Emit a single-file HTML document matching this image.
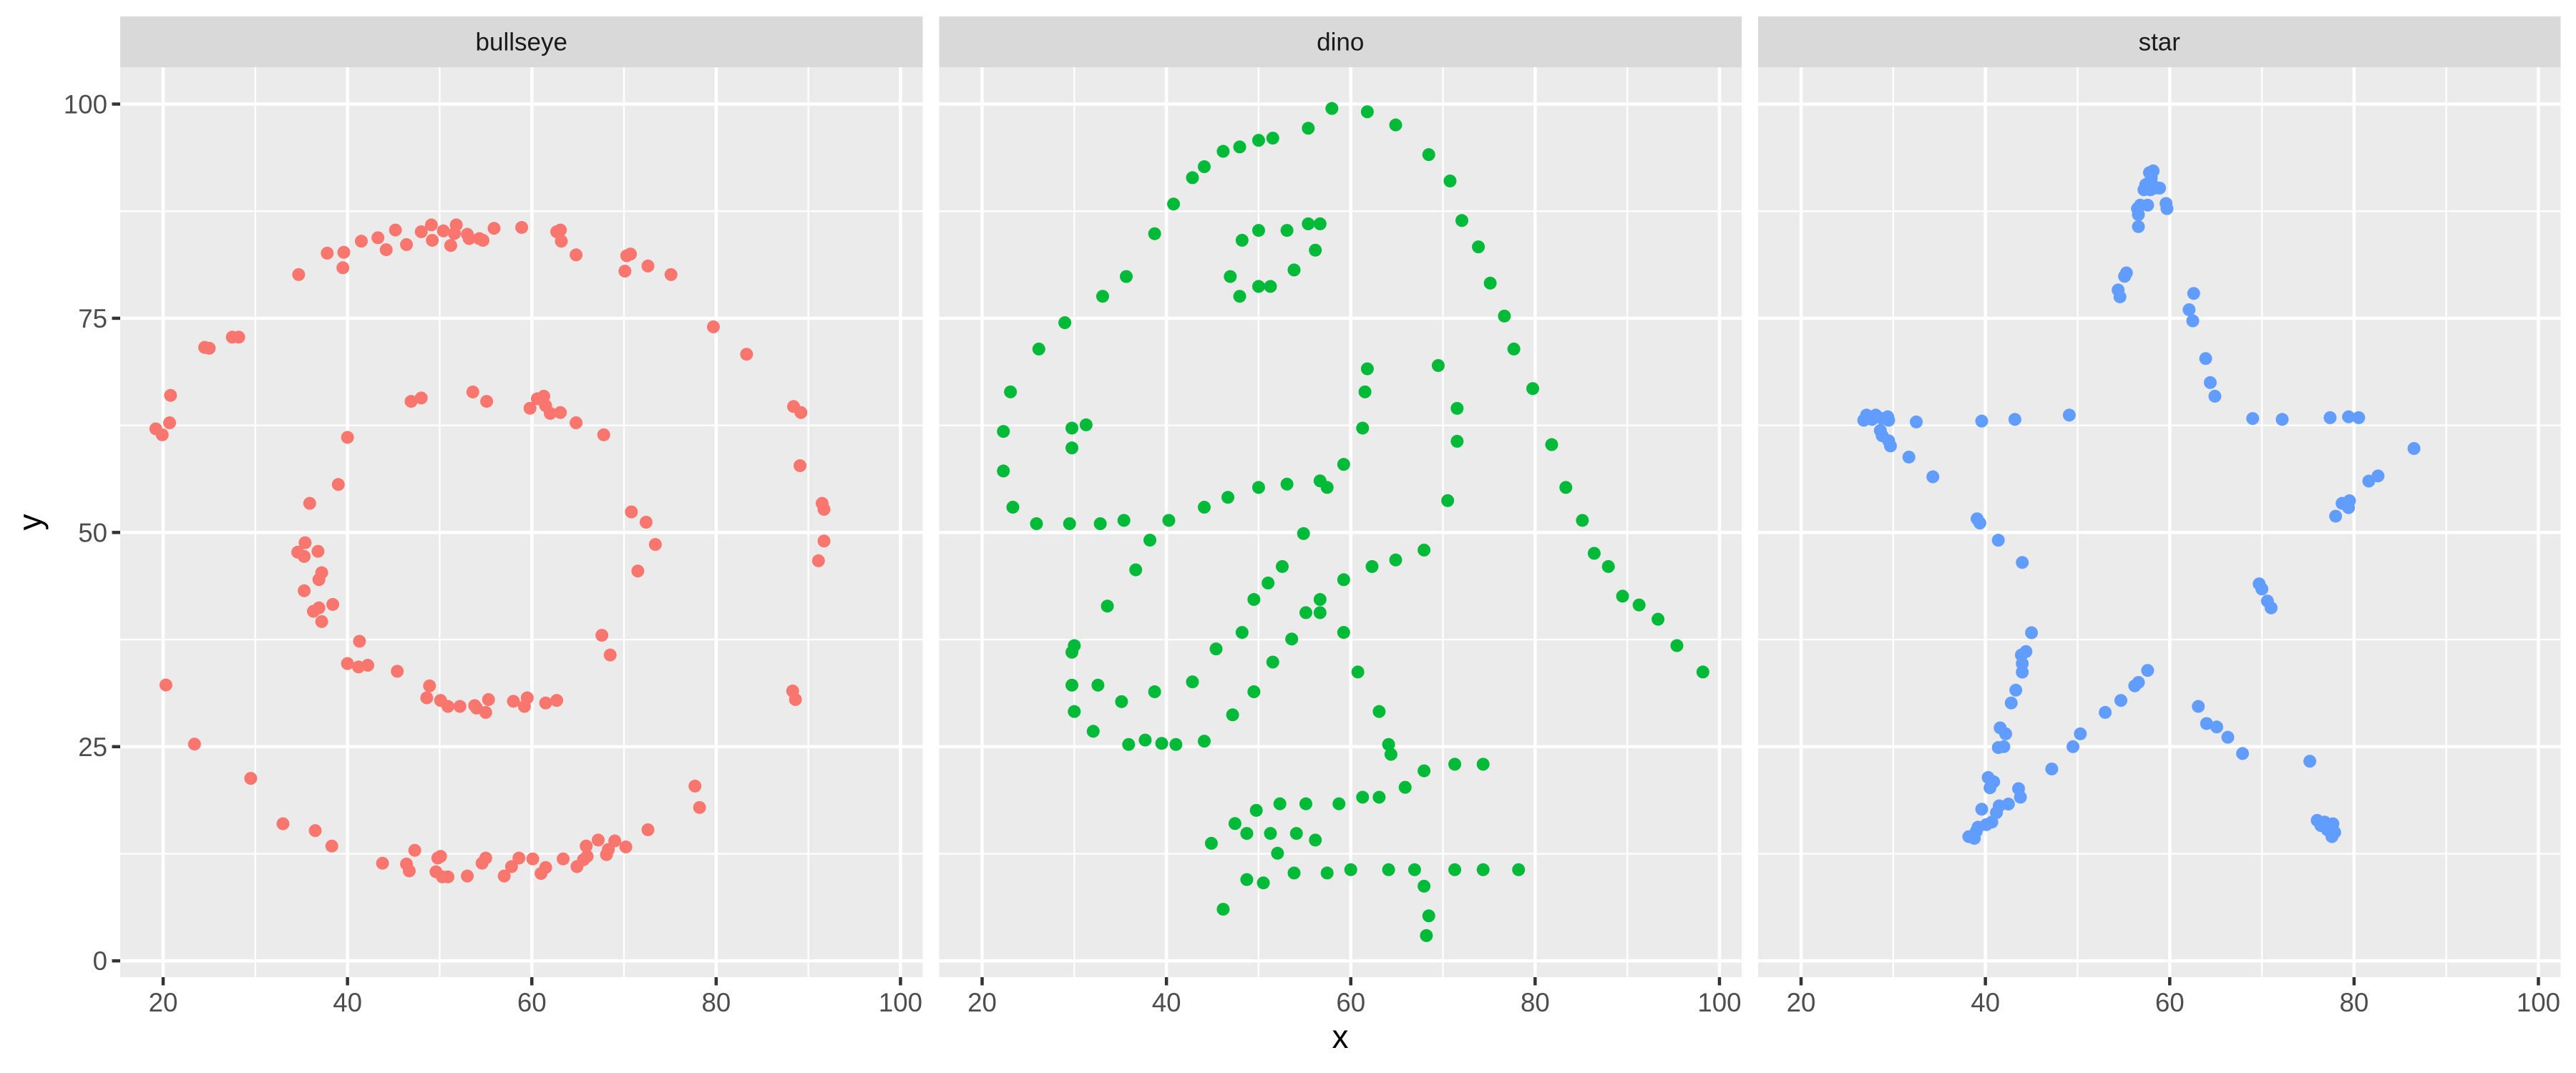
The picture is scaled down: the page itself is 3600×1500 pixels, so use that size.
<!DOCTYPE html>
<html><head><meta charset="utf-8">
<style>
html,body{margin:0;padding:0;background:#fff;}
svg{display:block;font-family:"Liberation Sans","DejaVu Sans",sans-serif;}
</style></head>
<body>
<svg id="chart" width="3600" height="1500" viewBox="0 0 3600 1500" xmlns="http://www.w3.org/2000/svg">
<rect width="3600" height="1500" fill="#ffffff"/>
<text x="42" y="730" font-size="46" fill="#000" text-anchor="middle" transform="rotate(-90 42 730)" dominant-baseline="central">y</text>
<text x="1873" y="1465" font-size="46" fill="#000" text-anchor="middle">x</text>
</svg>
<script>
const panelNames = ["bullseye","dino","star"];
const panelColors = ["#F8766D","#00BA38","#619CFF"];
const xTicks = [20,40,60,80,100];
const xMinor = [30,50,70,90];
const yTicks = [0,25,50,75,100];
const yMinor = [12.5,37.5,62.5,87.5];
const xTickLabels = ["20","40","60","80","100"];
const yTickLabels = ["0","25","50","75","100"];

const bullseyeX = [34.7,37.8,39.6,39.5,41.5,43.3,44.2,45.2,46.4,48.0,49.1,49.2,50.4,51.2,51.6,51.8,53.0,53.2,54.3,54.7,55.9,58.9,62.7,63.1,63.2,64.8,70.1,70.3,70.7,72.6,75.1,79.7,83.3,88.4,89.2,89.1,91.5,91.7,91.7,91.1,88.3,88.6,77.7,78.2,72.6,70.2,69.0,68.3,68.1,67.2,65.9,66.0,65.6,64.9,63.4,61.5,61.0,60.1,58.6,57.8,57.0,55.0,54.6,53.0,50.9,50.3,49.6,50.1,49.8,47.3,46.7,46.4,43.8,38.3,36.5,33.0,29.5,23.4,20.3,19.2,19.9,20.7,20.8,24.5,25.0,27.5,28.2,
46.9,48.0,53.6,55.1,59.8,60.6,61.3,61.5,62.0,63.1,64.8,67.8,40.0,39.0,35.9,35.4,34.6,35.3,36.8,37.2,36.9,35.3,36.3,36.9,37.2,38.4,41.3,40.0,41.2,42.2,45.4,48.9,48.6,50.1,50.9,52.2,53.8,54.0,55.0,55.3,58.0,59.2,59.5,61.5,62.7,67.6,68.5,70.8,72.4,73.4,71.5];
const bullseyeY = [80.1,82.6,82.7,80.9,84.0,84.4,83.0,85.3,83.6,85.1,85.9,84.1,85.2,83.5,84.9,85.9,84.8,84.3,84.3,84.1,85.5,85.6,85.1,85.3,84.0,82.4,80.5,82.3,82.5,81.1,80.1,74.0,70.8,64.7,64.0,57.8,53.4,52.7,49.0,46.7,31.5,30.5,20.4,17.9,15.3,13.3,14.0,13.0,12.4,14.1,13.4,12.2,11.8,11.0,11.9,10.9,10.2,11.9,12.0,11.0,9.9,12.0,11.4,9.9,9.8,9.8,10.4,12.2,12.0,12.9,10.5,11.3,11.4,13.4,15.2,16.0,21.3,25.3,32.2,62.1,61.4,62.8,66.0,71.6,71.5,72.8,72.8,
65.3,65.7,66.4,65.3,64.5,65.6,65.9,64.8,63.9,64.0,62.8,61.4,61.1,55.6,53.4,48.8,47.7,47.2,47.8,45.3,44.5,43.2,40.8,41.2,39.6,41.6,37.3,34.7,34.3,34.5,33.8,32.1,30.7,30.4,29.7,29.7,29.8,29.5,29.0,30.5,30.3,29.7,30.7,30.1,30.4,38.0,35.7,52.4,51.2,48.6,45.5];

const dinoX = [55.3846,51.5385,46.1538,42.8205,40.7692,38.7179,35.641,33.0769,28.9744,26.1538,23.0769,22.3077,22.3077,23.3333,25.8974,29.4872,32.8205,35.3846,40.2564,44.1026,46.6667,50,53.0769,56.6667,59.2308,61.2821,61.5385,61.7949,57.4359,54.8718,52.5641,48.2051,49.4872,51.0256,45.3846,42.8205,38.7179,35.1282,32.5641,30,33.5897,36.6667,38.2051,29.7436,29.7436,30,32.0513,35.8974,41.0256,44.1026,47.1795,49.4872,51.5385,53.5897,55.1282,56.6667,59.2308,62.3077,64.8718,67.9487,70.5128,71.5385,71.5385,69.4872,46.9231,48.2051,50,53.0769,55.3846,56.6667,56.1538,53.8462,51.2821,50,47.9487,29.7436,29.7436,31.2821,57.9487,61.7949,64.8718,68.4615,70.7692,72.0513,73.8462,75.1282,76.6667,77.6923,79.7436,81.7949,83.3333,85.1282,86.4103,87.9487,89.4872,93.3333,95.3846,98.2051,56.6667,59.2308,60.7692,63.0769,64.1026,64.359,74.359,71.2821,67.9487,65.8974,63.0769,61.2821,58.7179,55.1282,52.3077,49.7436,47.4359,44.8718,48.7179,51.2821,54.1026,56.1538,52.0513,48.7179,46.1538,50.5128,53.8462,57.4359,60,64.1026,66.9231,71.2821,74.359,78.2051,67.9487,68.4615,68.2051,37.6923,39.4872,91.2821,50,47.9487,44.1026];
const dinoY = [97.1795,96.0256,94.4872,91.4103,88.3333,84.8718,79.8718,77.5641,74.4872,71.4103,66.4103,61.7949,57.1795,52.9487,51.0256,51.0256,51.0256,51.4103,51.4103,52.9487,54.1026,55.2564,55.641,56.0256,57.9487,62.1795,66.4103,69.1026,55.2564,49.8718,46.0256,38.3333,42.1795,44.1026,36.4103,32.5641,31.4103,30.2564,32.1795,36.7949,41.4103,45.641,49.1026,36.0256,32.1795,29.1026,26.7949,25.2564,25.2564,25.641,28.718,31.4103,34.8718,37.5641,40.641,42.1795,44.4872,46.0256,46.7949,47.9487,53.718,60.641,64.4872,69.4872,79.8718,84.1026,85.2564,85.2564,86.0256,86.0256,82.9487,80.641,78.718,78.718,77.5641,59.8718,62.1795,62.5641,99.4872,99.1026,97.5641,94.1026,91.0256,86.4103,83.3333,79.1026,75.2564,71.4103,66.7949,60.2564,55.2564,51.4103,47.5641,46.0256,42.5641,39.8718,36.7949,33.718,40.641,38.3333,33.718,29.1026,25.2564,24.1026,22.9487,22.9487,22.1795,20.2564,19.1026,19.1026,18.3333,18.3333,18.3333,17.5641,16.0256,13.718,14.8718,14.8718,14.8718,14.1026,12.5641,9.4872,6.0256,9.1026,10.2564,10.2564,10.641,10.641,10.641,10.641,10.641,10.641,8.718,5.2564,2.9487,25.7692,25.3846,41.5385,95.7692,95,92.6923];

const starX = [26.8,27.1,27.7,28.1,28.8,29.4,29.5,28.6,28.8,29.5,29.7,32.5,31.7,34.3,39.6,43.2,49.1,69.0,72.2,77.4,79.4,80.5,86.5,82.6,81.6,79.5,78.7,79.4,78.0,39.1,39.4,41.4,44.0,45.0,44.4,43.9,44.0,44.0,43.3,42.8,41.6,42.2,41.4,42.0,40.3,40.9,40.5,43.6,43.8,42.5,41.5,41.2,39.6,40.7,40.1,39.2,39.0,38.2,38.8,47.2,49.5,50.3,53.0,54.7,56.2,56.6,57.6,63.1,64.0,65.1,66.3,67.9,75.2,76.0,76.4,76.8,77.4,77.7,77.9,77.6,77.1,69.7,70.0,70.6,71.0,62.6,62.1,62.5,63.9,64.4,64.9,54.4,54.6,55.1,55.3,56.6,56.6,56.5,56.8,57.6,57.2,57.4,58.0,58.2,57.8,58.1,58.4,58.9,59.6,59.7,57.9];
const starY = [63.1,63.7,63.2,63.7,63.3,63.5,63.1,61.9,61.3,60.7,60.1,62.9,58.8,56.5,63.0,63.2,63.7,63.3,63.2,63.4,63.5,63.4,59.8,56.6,56.0,53.7,53.4,52.9,51.9,51.6,51.1,49.1,46.5,38.3,36.1,35.7,34.7,33.7,31.6,30.1,27.2,26.5,24.9,25.0,21.4,20.9,20.2,20.1,19.1,18.3,18.1,17.3,17.7,16.2,15.9,15.6,15.1,14.5,14.3,22.4,25.0,26.5,29.0,30.4,32.1,32.5,33.9,29.7,27.7,27.3,26.1,24.2,23.3,16.4,15.8,16.2,15.7,16.0,15.0,14.5,15.3,44.0,43.4,42.0,41.2,77.9,76.0,74.7,70.3,67.5,65.9,78.3,77.5,79.9,80.3,85.7,87.1,87.8,88.2,88.2,90.0,90.6,91.4,92.2,92.0,90.6,90.2,90.2,88.4,87.8,90.0];

const seriesX = [bullseyeX, dinoX, starX];
const seriesY = [bullseyeY, dinoY, starY];

const NS = "http://www.w3.org/2000/svg";
const svg = document.getElementById("chart");
const panelW = 1121.5, gap = 23, left0 = 168, plotTop = 94, plotBottom = 1366, stripTop = 23;
const xMinV = 15.34, xMaxV = 102.41, yMinV = -1.9, yMaxV = 104.3;
function xScale(v, p) { const l = left0 + p*(panelW+gap); return l + (v - xMinV)/(xMaxV - xMinV)*panelW; }
function yScale(v) { return plotBottom - (v - yMinV)/(yMaxV - yMinV)*(plotBottom - plotTop); }
function mk(tag, attrs) { const e = document.createElementNS(NS, tag); for (const k in attrs) e.setAttribute(k, attrs[k]); svg.appendChild(e); return e; }

for (let p = 0; p < 3; p++) {
  const l = left0 + p*(panelW+gap);
  const bg = mk("rect", {x:l, y:plotTop, width:panelW, height:plotBottom-plotTop, fill:"#EBEBEB"});
  
  
  const st = mk("rect", {x:l, y:stripTop, width:panelW, height:plotTop-stripTop, fill:"#D9D9D9"});
  
  
  const stt = mk("text", {x:l+panelW/2, y:(stripTop+plotTop)/2+12, "font-size":"35", fill:"#1A1A1A", "text-anchor":"middle"});
  stt.textContent = panelNames[p];
  
  
  yMinor.forEach(v => {
    const g = mk("line", {x1:l, x2:l+panelW, y1:yScale(v), y2:yScale(v), stroke:"#fff", "stroke-width":"2.3"});
    
    
  });
  xMinor.forEach(v => {
    const g = mk("line", {x1:xScale(v,p), x2:xScale(v,p), y1:plotTop, y2:plotBottom, stroke:"#fff", "stroke-width":"2.3"});
    
    
  });
  yTicks.forEach(v => {
    const g = mk("line", {x1:l, x2:l+panelW, y1:yScale(v), y2:yScale(v), stroke:"#fff", "stroke-width":"4.5"});
    
    
  });
  xTicks.forEach((v, i) => {
    const g = mk("line", {x1:xScale(v,p), x2:xScale(v,p), y1:plotTop, y2:plotBottom, stroke:"#fff", "stroke-width":"4.5"});
    
    
    const t = mk("line", {x1:xScale(v,p), x2:xScale(v,p), y1:plotBottom, y2:plotBottom+11.5, stroke:"#333", "stroke-width":"4.5"});
    
    
    const tl = mk("text", {x:xScale(v,p), y:plotBottom+48, "font-size":"36.7", fill:"#4D4D4D", "text-anchor":"middle"});
    tl.textContent = xTickLabels[i];
    
    
  });
  if (p === 0) {
    yTicks.forEach((v, i) => {
      const t = mk("line", {x1:l-11.5, x2:l, y1:yScale(v), y2:yScale(v), stroke:"#333", "stroke-width":"4.5"});
      
      
      const tl = mk("text", {x:l-18, y:yScale(v)+13, "font-size":"36.7", fill:"#4D4D4D", "text-anchor":"end"});
      tl.textContent = yTickLabels[i];
      
      
    });
  }
  const xs = seriesX[p], ys = seriesY[p];
  for (let i = 0; i < xs.length; i++) {
    const c = mk("circle", {cx:xScale(xs[i],p), cy:yScale(ys[i]), r:"9", fill:panelColors[p]});
    
    
  }
}
</script>
</body></html>
